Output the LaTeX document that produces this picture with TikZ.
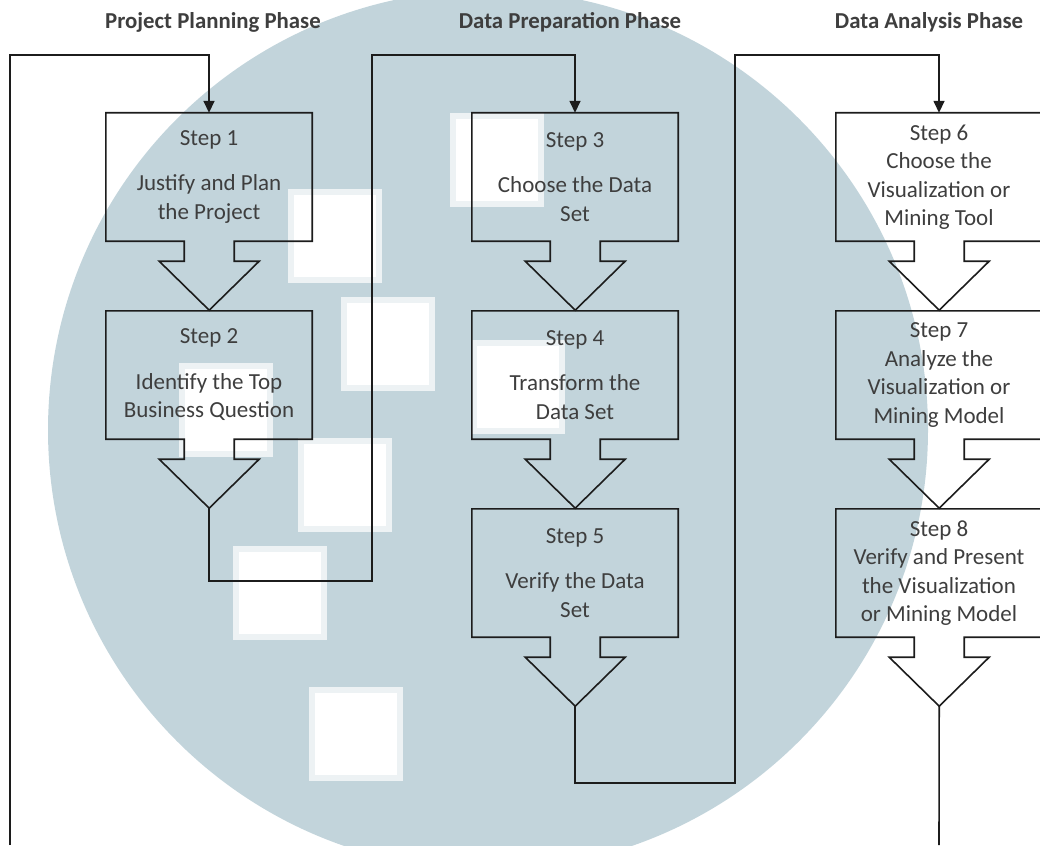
\documentclass[tikz,border=0pt]{standalone}
\usepackage{fontspec}
\setmainfont{Carlito}
\usetikzlibrary{arrows.meta}

\definecolor{wmark}{RGB}{194,212,219}
\definecolor{ink}{RGB}{28,28,28}

\tikzset{
  stepbox/.style={minimum width=206pt, minimum height=128pt, inner sep=0pt,
    align=center, text=ink!85, font=\fontsize{23}{28.5}\selectfont},
  phase/.style={font=\bfseries\fontsize{22.8}{26}\selectfont, text=ink!85},
  link/.style={draw=ink, line width=1.6pt},
  flow/.style={link, -{Triangle[length=12pt,width=11pt]}},
  wsq/.style={fill=white, draw=white!70!wmark, line width=6pt}
}

\begin{document}
\begin{tikzpicture}[x=1pt,y=-1pt]
\useasboundingbox (0,0) rectangle (1040,845);

% watermark behind the chart
\fill[wmark] (488,430) circle (440);
\foreach \x/\y in {287/188, 340/296, 449/112, 470/339, 178/362, 297/437, 232/545, 308/686}
  \draw[wsq] (\x+4,\y+4) rectangle ++(88,88);

% phases
\node[phase] (ph1) at (213,22) {Project Planning Phase};
\node[phase] (ph2) at (570,22) {Data Preparation Phase};
\node[phase] (ph3) at (929,22) {Data Analysis Phase};

% steps
\node[stepbox] (s1) at (209,177) {Step 1\\[17pt]Justify and Plan\\the Project};
\node[stepbox] (s2) at (209,375) {Step 2\\[17pt]Identify the Top\\Business Question};
\node[stepbox] (s3) at (575,177) {Step 3\\[17pt]Choose the Data\\Set};
\node[stepbox] (s4) at (575,375) {Step 4\\[17pt]Transform the\\Data Set};
\node[stepbox] (s5) at (575,573) {Step 5\\[17pt]Verify the Data\\Set};
\node[stepbox] (s6) at (939,177) {Step 6\\Choose the\\Visualization or\\Mining Tool};
\node[stepbox] (s7) at (939,375) {Step 7\\Analyze the\\Visualization or\\Mining Model};
\node[stepbox] (s8) at (939,573) {Step 8\\Verify and Present\\the Visualization\\or Mining Model};

% box with its block arrow
\foreach \i in {1,...,8}
  \draw[link, line join=miter] (s\i.south west) -- (s\i.north west) -- (s\i.north east) -- (s\i.south east)
    -- ++(-78,0) -- ++(0,20) -- ++(25,0) -- ++(-50,49) coordinate (tip\i)
    -- ++(-50,-49) -- ++(25,0) -- ++(0,-20) -- cycle;

\coordinate (in1) at (10,845);
\coordinate (bend1) at (372,581);
\coordinate (bend2) at (735,783);
\coordinate (out8) at (939,845);

\draw[flow] (in1) -- ++(0,-790) -| (s1.north);
\draw[flow] (tip2) |- (bend1) -- ++(0,-526) -| (s3.north);
\draw[flow] (tip5) |- (bend2) -- ++(0,-728) -| (s6.north);
\draw[link] (tip8) -- (out8);

\end{tikzpicture}
\end{document}
